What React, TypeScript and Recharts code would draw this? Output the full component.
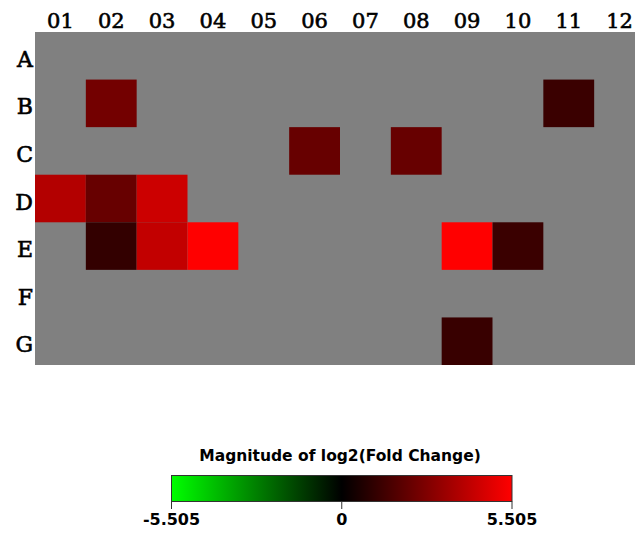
import { ScatterChart, Scatter, XAxis, YAxis, CartesianGrid } from "recharts";

const colLabels = ["01", "02", "03", "04", "05", "06", "07", "08", "09", "10", "11", "12"];
const rowLabels = ["A", "B", "C", "D", "E", "F", "G"];

// significant wells only; all others drawn grey
const cellRows = ["B", "B", "C", "C", "D", "D", "D", "E", "E", "E", "E", "E", "G"];
const cellCols = ["02", "11", "06", "08", "01", "02", "03", "02", "03", "04", "09", "10", "09"];
const cellValues = [2.48, 1.25, 2.22, 2.22, 3.86, 2.22, 4.4, 1.1, 4.19, 5.505, 5.505, 1.25, 1.21];

const scaleMax = 5.505;
const legendTicks = [-5.505, 0, 5.505];

const cells = cellValues.map((v, i) => ({
  x: colLabels.indexOf(cellCols[i]),
  y: rowLabels.indexOf(cellRows[i]),
  v,
}));

const CHART_W = 646;
const CHART_H = 366;
const Y_AXIS_W = 35;
const X_AXIS_H = 32;
const CELL_W = (CHART_W - 1 - Y_AXIS_W) / colLabels.length;
const CELL_H = (CHART_H - 1 - X_AXIS_H) / rowLabels.length;

function colorFor(v: number) {
  const c = Math.round((Math.min(Math.abs(v), scaleMax) / scaleMax) * 255);
  return v >= 0 ? `rgb(${c},0,0)` : `rgb(0,${c},0)`;
}

const CellShape = (props: any) => {
  const { cx, cy, payload } = props;
  return (
    <rect
      x={cx - CELL_W / 2}
      y={cy - CELL_H / 2}
      width={CELL_W}
      height={CELL_H}
      fill={colorFor(payload.v)}
    />
  );
};

const ColTick = ({ x, y, payload }: any) => (
  <text x={x} y={y} textAnchor="middle" fontFamily="DejaVu Serif" fontSize={21} fill="#000" stroke="#000" strokeWidth={0.6}>
    {colLabels[payload.value]}
  </text>
);

const RowTick = ({ x, y, payload }: any) => (
  <text x={x} y={y + 11} textAnchor="end" fontFamily="DejaVu Serif" fontSize={22} fill="#000" stroke="#000" strokeWidth={0.6}>
    {rowLabels[payload.value]}
  </text>
);

function ColorLegend() {
  const x0 = 171.5;
  const x1 = 512;
  const pos = (t: number) => x0 + ((t + scaleMax) / (2 * scaleMax)) * (x1 - x0);
  return (
    <svg width={635} height={534} style={{ position: "absolute", left: 0, top: 0 }}>
      <defs>
        <linearGradient id="fc" x1="0" x2="1" y1="0" y2="0">
          <stop offset="0%" stopColor="#00ff00" />
          <stop offset="50%" stopColor="#000000" />
          <stop offset="100%" stopColor="#ff0000" />
        </linearGradient>
      </defs>
      <text x={340} y={461} textAnchor="middle" fontFamily="DejaVu Sans" fontWeight="bold" fontSize={15.5} fill="#000">
        Magnitude of log2(Fold Change)
      </text>
      <rect x={x0} y={475.5} width={x1 - x0} height={26} fill="url(#fc)" stroke="#333" strokeWidth={1} />
      {legendTicks.map((t) => (
        <g key={t}>
          <line x1={pos(t)} x2={pos(t)} y1={501.5} y2={509} stroke="#333" strokeWidth={1} />
          <text x={pos(t)} y={525} textAnchor="middle" fontFamily="DejaVu Sans" fontWeight="bold" fontSize={16} fill="#000">
            {t === 0 ? "0" : t.toFixed(3)}
          </text>
        </g>
      ))}
    </svg>
  );
}

export default function App() {
  return (
    <div style={{ position: "absolute", left: 0, top: 0, width: 635, height: 534, overflow: "hidden", background: "#fff" }}>
      <ScatterChart width={CHART_W} height={CHART_H} margin={{ top: 0, right: 1, bottom: 1, left: 0 }}>
        <CartesianGrid horizontal={false} vertical={false} fill="#808080" fillOpacity={1} />
        <XAxis
          type="number"
          dataKey="x"
          orientation="top"
          domain={[-0.5, colLabels.length - 0.5]}
          ticks={colLabels.map((_, i) => i)}
          height={X_AXIS_H}
          axisLine={false}
          tickLine={false}
          tickSize={0}
          tickMargin={4}
          interval={0}
          tick={<ColTick />}
        />
        <YAxis
          type="number"
          dataKey="y"
          reversed
          domain={[-0.5, rowLabels.length - 0.5]}
          ticks={rowLabels.map((_, i) => i)}
          width={Y_AXIS_W}
          axisLine={false}
          tickLine={false}
          tickSize={0}
          tickMargin={2}
          interval={0}
          tick={<RowTick />}
        />
        <Scatter data={cells} shape={<CellShape />} isAnimationActive={false} />
      </ScatterChart>
      <ColorLegend />
    </div>
  );
}
